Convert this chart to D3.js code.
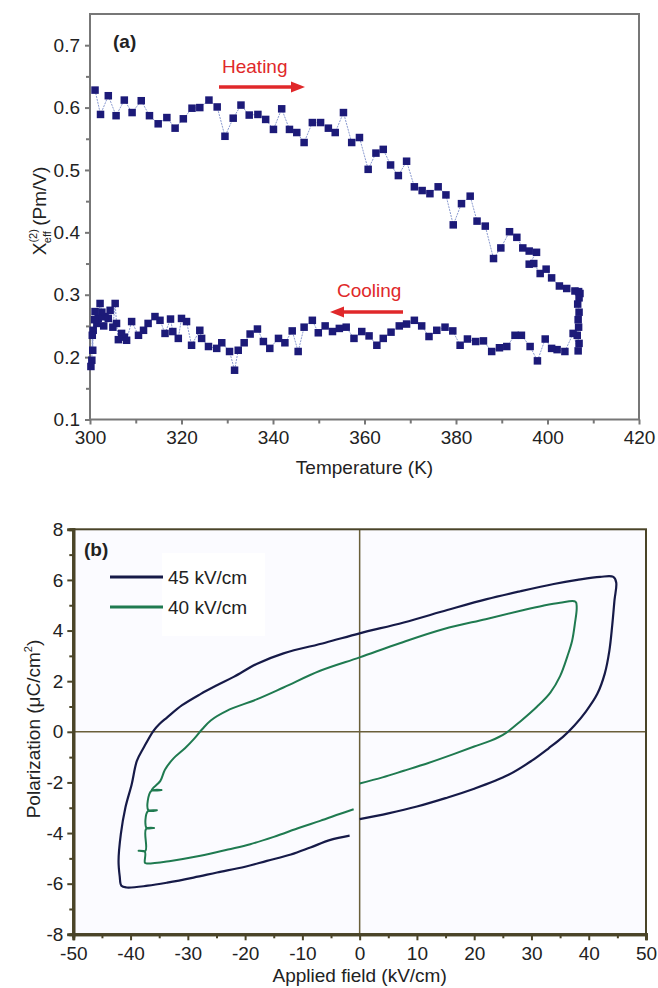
<!DOCTYPE html>
<meta charset="utf-8">
<style>
body { margin: 0; background: #fff; }
text { font-family: "Liberation Sans", Arial, sans-serif; fill: #222; }
.tick text { font-size: 19px; }
</style>
<svg width="658" height="988"></svg>
<script src="https://cdn.jsdelivr.net/npm/d3@7"></script>
<script>

// ---- panel (a): SHG coefficient vs temperature ----
var heatT = [301.1,302.3,304.0,305.7,307.5,309.2,311.2,313.0,314.9,316.8,318.6,320.4,322.3,324.0,326.0,327.8,329.5,331.3,333.0,334.8,336.7,338.4,340.1,341.9,343.6,345.2,346.8,348.6,350.4,352.1,353.6,355.4,357.2,358.9,360.8,362.5,364.1,365.7,367.4,369.2,370.9,372.6,374.3,376.1,377.8,379.4,381.2,383.1,384.6,386.4,388.2,389.8,391.7,393.3,394.6,396.0,397.6,396.0,397.0,398.4,399.7,400.9,402.6,404.2,406.0,407.1];
var heatV = [0.628,0.589,0.619,0.587,0.612,0.592,0.611,0.587,0.574,0.584,0.567,0.582,0.599,0.600,0.612,0.601,0.554,0.583,0.604,0.588,0.589,0.581,0.565,0.598,0.565,0.560,0.544,0.576,0.576,0.567,0.560,0.592,0.544,0.552,0.501,0.527,0.533,0.508,0.491,0.514,0.473,0.467,0.462,0.473,0.460,0.412,0.446,0.458,0.418,0.410,0.358,0.375,0.401,0.392,0.375,0.370,0.368,0.349,0.350,0.334,0.341,0.327,0.314,0.310,0.306,0.302];

var coolT = [406.8,406.9,406.6,406.9,406.7,406.8,406.5,406.9,406.7,405.6,403.8,402.1,400.9,399.5,397.8,396.2,394.3,392.9,391.1,389.5,387.8,386.0,384.3,382.5,380.9,379.3,377.6,375.8,374.1,372.5,370.9,369.2,367.6,365.8,364.1,362.7,361.0,359.4,357.7,356.0,354.5,353.0,351.4,349.9,348.6,346.8,345.5,344.2,342.6,341.2,339.3,337.9,336.6,335.0,333.7,332.4,331.6,330.5,328.8,327.7,325.9,324.4,324.0,322.2,321.1,320.0,319.3,318.1,317.6,316.4,315.3,314.2,312.7,311.7,310.6,309.1,308.0,307.5,306.9,306.2,305.8,305.5,305.0,304.4,304.0,303.3,303.0,302.6,302.2,301.8,301.5,301.1,301.0,300.7,300.6,300.5,300.4,300.2];
var coolV = [0.305,0.295,0.285,0.272,0.260,0.248,0.235,0.222,0.210,0.238,0.209,0.212,0.214,0.229,0.194,0.217,0.235,0.235,0.217,0.215,0.209,0.226,0.225,0.229,0.219,0.242,0.248,0.243,0.233,0.250,0.259,0.253,0.250,0.240,0.230,0.219,0.234,0.241,0.230,0.248,0.246,0.241,0.250,0.239,0.259,0.248,0.209,0.242,0.223,0.230,0.214,0.225,0.245,0.237,0.223,0.211,0.179,0.209,0.223,0.214,0.217,0.230,0.243,0.219,0.257,0.262,0.230,0.241,0.261,0.238,0.259,0.265,0.254,0.243,0.235,0.257,0.227,0.232,0.238,0.228,0.254,0.286,0.248,0.275,0.262,0.265,0.250,0.272,0.286,0.262,0.254,0.273,0.260,0.243,0.211,0.235,0.195,0.185];

var aXTicks = [300,320,340,360,380,400,420];
var aYTicks = [0.1,0.2,0.3,0.4,0.5,0.6,0.7];

// ---- panel (b): P-E hysteresis loops ----
var loop45E = [0,5,10,15,20,26,30,33,35.5,37.5,39.5,41.5,42.8,43.6,44.1,44.5,44.8,44.3,42,38,33.9,28,22.2,15.3,7.7,0,-6,-13.3,-18,-22,-25,-27.8,-31,-33.6,-35,-36,-37.7,-38.9,-39.8,-40.9,-41.7,-42.1,-41.9,-41.6,-40.7,-37,-33.6,-29,-24.9,-20,-16.2,-12,-8.6,-5.1,-1.75];
var loop45P = [-3.45,-3.22,-2.95,-2.62,-2.25,-1.7,-1.15,-0.65,-0.2,0.25,0.8,1.5,2.3,3.2,4.2,5.2,5.9,6.12,6.12,6.0,5.84,5.55,5.24,4.81,4.32,3.89,3.52,3.1,2.68,2.17,1.83,1.49,1.05,0.57,0.3,0.04,-0.62,-1.15,-2.07,-2.99,-4.04,-5.1,-5.7,-6.08,-6.15,-6.08,-5.96,-5.76,-5.56,-5.33,-5.1,-4.85,-4.57,-4.27,-4.1];

// small horizontal spikes on the left branch are measurement noise seen in the figure
var loop40E = [0,4,7.7,12,16.4,20,22.8,25.5,28,31,33.3,35,36.3,37.1,37.6,37.9,37.7,35,32,28.1,22,14.7,7,0,-6.9,-13.3,-18,-23.2,-26,-27.5,-28.8,-30.5,-32.5,-34,-34.8,-36.3,-34.6,-36.4,-36.9,-35.4,-37.0,-37.2,-35.9,-37.3,-37.4,-38.6,-37.5,-37.5,-37.2,-33,-27.8,-23,-19.1,-15,-10.4,-6.9,-3.5,-1.05];
var loop40P = [-2.04,-1.8,-1.54,-1.23,-0.88,-0.58,-0.36,-0.05,0.4,1.0,1.55,2.2,3.0,3.6,4.3,4.9,5.14,5.1,4.98,4.78,4.45,4.06,3.5,2.94,2.41,1.75,1.28,0.83,0.45,0.1,-0.25,-0.65,-1.05,-1.5,-1.94,-2.3,-2.3,-2.34,-3.1,-3.1,-3.14,-3.8,-3.8,-3.84,-4.7,-4.7,-4.74,-5.17,-5.2,-5.1,-4.9,-4.65,-4.44,-4.15,-3.78,-3.52,-3.25,-3.06];

var bXTicks = [-50,-40,-30,-20,-10,0,10,20,30,40,50];
var bYTicks = [-8,-6,-4,-2,0,2,4,6,8];

var svg = d3.select("svg");
var plainInt = function(d) { return String(d); };

// =========== panel (a) ===========
var xa = d3.scaleLinear().domain([300, 420]).range([90, 639]);
var ya = d3.scaleLinear().domain([0.1, 0.75]).range([419.5, 14]);
var gA = svg.append("g");
var aAxisColor = "#777";

gA.append("rect")
    .attr("x", xa(300)).attr("y", ya(0.75))
    .attr("width", xa(420) - xa(300)).attr("height", ya(0.1) - ya(0.75))
    .attr("fill", "none").attr("stroke", aAxisColor).attr("stroke-width", 2);

gA.append("g")
    .attr("transform", "translate(0," + ya(0.1) + ")")
    .call(d3.axisBottom(xa).tickValues(aXTicks).tickSize(5).tickPadding(6).tickFormat(plainInt));
gA.append("g")
    .attr("transform", "translate(0," + ya(0.1) + ")")
    .call(d3.axisBottom(xa).tickValues(d3.range(310, 420, 20)).tickSize(4).tickFormat(""));
gA.append("g")
    .attr("transform", "translate(" + xa(300) + ",0)")
    .call(d3.axisLeft(ya).tickValues(aYTicks).tickSize(5).tickPadding(5).tickFormat(d3.format(".1f")));
gA.append("g")
    .attr("transform", "translate(" + xa(300) + ",0)")
    .call(d3.axisLeft(ya).tickValues([0.15,0.25,0.35,0.45,0.55,0.65]).tickSize(4).tickFormat(""));
gA.selectAll(".domain").remove();
gA.selectAll(".tick line").attr("stroke", aAxisColor).attr("stroke-width", 2);

var heat = heatT.map(function(t, i) { return {t: t, v: heatV[i]}; });
var cool = coolT.map(function(t, i) { return {t: t, v: coolV[i]}; });

var lineA = d3.line().x(function(d) { return xa(d.t); }).y(function(d) { return ya(d.v); });

[heat, cool].forEach(function(series) {
  gA.append("path")
      .datum(series)
      .attr("d", lineA)
      .attr("fill", "none")
      .attr("stroke", "#8a9ad0")
      .attr("stroke-width", 1)
      .attr("stroke-dasharray", "2,1");
  gA.selectAll(null)
      .data(series)
    .enter().append("rect")
      .attr("x", function(d) { return xa(d.t) - 3.75; })
      .attr("y", function(d) { return ya(d.v) - 3.75; })
      .attr("width", 7.5).attr("height", 7.5)
      .attr("fill", "#1c1a78");
});

gA.append("text").attr("x", 113).attr("y", 48)
    .style("font-size", "19px").style("font-weight", "bold").text("(a)");

var red = "#e0282a";
gA.append("text").attr("x", 222).attr("y", 73)
    .style("font-size", "19px").style("fill", red).text("Heating");
gA.append("line").attr("x1", 219).attr("y1", 87).attr("x2", 293).attr("y2", 87)
    .attr("stroke", red).attr("stroke-width", 3.5);
gA.append("path").attr("d", "M305,87 L291,81.5 L291,92.5 Z").attr("fill", red);

gA.append("text").attr("x", 337).attr("y", 297)
    .style("font-size", "19px").style("fill", red).text("Cooling");
gA.append("line").attr("x1", 342).attr("y1", 312).attr("x2", 403).attr("y2", 312)
    .attr("stroke", red).attr("stroke-width", 3.5);
gA.append("path").attr("d", "M330,312 L344,306.5 L344,317.5 Z").attr("fill", red);

gA.append("text")
    .attr("x", (xa(300) + xa(420)) / 2).attr("y", 474)
    .attr("text-anchor", "middle")
    .style("font-size", "19px").text("Temperature (K)");

var yLabA = gA.append("text")
    .attr("transform", "translate(46,211) rotate(-90)")
    .attr("text-anchor", "middle")
    .style("font-size", "19px");
yLabA.append("tspan").text("X");
yLabA.append("tspan").attr("dy", -9).style("font-size", "11px").text("(2)");
yLabA.append("tspan").attr("dx", -14).attr("dy", 14).style("font-size", "11px").text("eff");
yLabA.append("tspan").attr("dy", -5).text(" (Pm/V)");

// =========== panel (b) ===========
var xb = d3.scaleLinear().domain([-50, 50]).range([73.3, 646]);
var yb = d3.scaleLinear().domain([-8, 8]).range([934.3, 529.3]);
var gB = svg.append("g");
var frameB = "#4a4428";

gB.append("rect")
    .attr("x", xb(-50)).attr("y", yb(8))
    .attr("width", xb(50) - xb(-50)).attr("height", yb(-8) - yb(8))
    .attr("fill", "#fbfbff");

gB.append("line").attr("x1", xb(0)).attr("x2", xb(0)).attr("y1", yb(8)).attr("y2", yb(-8))
    .attr("stroke", "#6a5f3a").attr("stroke-width", 1.5);
gB.append("line").attr("x1", xb(-50)).attr("x2", xb(50)).attr("y1", yb(0)).attr("y2", yb(0))
    .attr("stroke", "#6a5f3a").attr("stroke-width", 1.5);

// legend
var legend = gB.append("g");
legend.append("rect").attr("x", 162).attr("y", 553).attr("width", 103).attr("height", 83).attr("fill", "#ffffff");
var legendItems = [{label: "45 kV/cm", color: "#161a48", y: 577}, {label: "40 kV/cm", color: "#1f7a50", y: 607}];
legendItems.forEach(function(d) {
  legend.append("line").attr("x1", 110).attr("x2", 163).attr("y1", d.y).attr("y2", d.y)
      .attr("stroke", d.color).attr("stroke-width", 3);
  legend.append("text").attr("x", 168).attr("y", d.y + 7).style("font-size", "19px").text(d.label);
});

var lineB = d3.line().x(function(d) { return xb(d.e); }).y(function(d) { return yb(d.p); })
    .curve(d3.curveCatmullRom.alpha(0.5));

var loop45 = loop45E.map(function(e, i) { return {e: e, p: loop45P[i]}; });
var loop40 = loop40E.map(function(e, i) { return {e: e, p: loop40P[i]}; });

gB.append("path").datum(loop45).attr("d", lineB)
    .attr("fill", "none").attr("stroke", "#161a48").attr("stroke-width", 2.2)
    .attr("stroke-linejoin", "round");
gB.append("path").datum(loop40).attr("d", lineB)
    .attr("fill", "none").attr("stroke", "#1f7a50").attr("stroke-width", 2)
    .attr("stroke-linejoin", "round");

gB.append("rect")
    .attr("x", xb(-50)).attr("y", yb(8))
    .attr("width", xb(50) - xb(-50)).attr("height", yb(-8) - yb(8))
    .attr("fill", "none").attr("stroke", frameB).attr("stroke-width", 2);

gB.append("g")
    .attr("transform", "translate(0," + yb(-8) + ")")
    .call(d3.axisBottom(xb).tickValues(bXTicks).tickSize(6).tickPadding(6).tickFormat(plainInt));
gB.append("g")
    .attr("transform", "translate(0," + yb(-8) + ")")
    .call(d3.axisBottom(xb).tickValues(d3.range(-45, 50, 10)).tickSize(4).tickFormat(""));
gB.append("g")
    .attr("transform", "translate(" + xb(-50) + ",0)")
    .call(d3.axisLeft(yb).tickValues(bYTicks).tickSize(6).tickPadding(4).tickFormat(plainInt));
gB.append("g")
    .attr("transform", "translate(" + xb(-50) + ",0)")
    .call(d3.axisLeft(yb).tickValues(d3.range(-7, 8, 2)).tickSize(4).tickFormat(""));
gB.selectAll(".domain").attr("stroke", frameB).attr("stroke-width", 3);
gB.selectAll(".tick line").attr("stroke", frameB).attr("stroke-width", 2);

gB.append("text").attr("x", 84).attr("y", 556)
    .style("font-size", "19px").style("font-weight", "bold").text("(b)");

gB.append("text")
    .attr("x", (xb(-50) + xb(50)) / 2).attr("y", 982)
    .attr("text-anchor", "middle")
    .style("font-size", "19px").text("Applied field (kV/cm)");

var yLabB = gB.append("text")
    .attr("transform", "translate(40,729) rotate(-90)")
    .attr("text-anchor", "middle")
    .style("font-size", "19px");
yLabB.append("tspan").text("Polarization (\u03bcC/cm");
yLabB.append("tspan").attr("dy", -8).style("font-size", "11px").text("2");
yLabB.append("tspan").attr("dy", 8).text(")");

</script>
